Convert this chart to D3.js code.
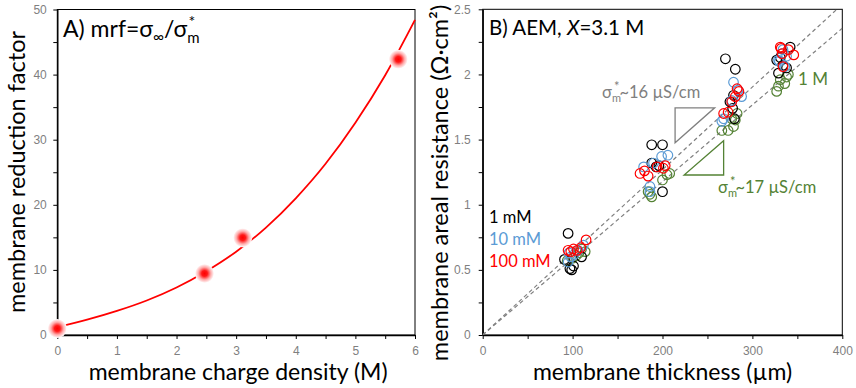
<!DOCTYPE html>
<html>
<head>
<meta charset="utf-8">
<script src="https://cdn.jsdelivr.net/npm/d3@7"></script>
<style>
  body { margin: 0; background: #fff; }
  svg { font-family: Lato, "Open Sans", sans-serif; }
  .tick text { fill: #7f7f7f; font-size: 12px; }
  .tick line { stroke: #000; }
  .domain { stroke: #000; stroke-width: 1.4; }
</style>
</head>
<body>
<script>
// ---- panel A: membrane reduction factor vs charge density
var chargeDensity = [0, 2.47, 3.11, 5.72];
var mrfValues = [1.0, 9.45, 14.95, 42.35];
// fitted curve
var curveX = [0, 0.5, 1, 1.5, 2, 2.5, 3, 3.5, 4, 4.5, 5, 5.5, 6];
var curveY = [1.2, 2.35, 3.7, 5.3, 7.3, 9.8, 12.8, 16.5, 21.0, 26.3, 32.6, 39.9, 48.4];

// ---- panel B: areal resistance vs thickness, [thickness um, resistance ohm.cm2]
var res1mM = [[95, 0.78], [91, 0.58], [97, 0.51], [99, 0.50], [101, 0.53], [110, 0.60],
  [188, 1.46], [200, 1.46], [188, 1.32], [193, 1.29], [200, 1.10], [196, 1.30],
  [270, 2.12], [281, 2.04], [279, 1.84], [275, 1.79], [280, 1.66], [278, 1.74],
  [327, 2.11], [329, 2.01], [342, 2.21], [338, 2.05], [334, 2.07], [331, 2.13]];
var res10mM = [[95, 0.56], [98, 0.60], [102, 0.62], [106, 0.65], [112, 0.69], [96, 0.63],
  [179, 1.29], [206, 1.38], [199, 1.37], [186, 1.14], [186, 1.10], [190, 1.32],
  [279, 1.94], [284, 1.88], [288, 1.83], [266, 1.64], [268, 1.66], [277, 1.80],
  [329, 2.11], [338, 2.14], [333, 2.16], [336, 2.06], [334, 2.19], [330, 2.10]];
var res100mM = [[95, 0.65], [98, 0.64], [101, 0.66], [105, 0.65], [109, 0.67], [115, 0.73],
  [175, 1.24], [184, 1.22], [194, 1.29], [203, 1.30], [201, 1.28], [180, 1.26],
  [283, 1.89], [285, 1.87], [281, 1.83], [277, 1.79], [273, 1.71], [268, 1.70],
  [331, 2.21], [333, 2.16], [346, 2.15], [334, 2.06], [332, 2.20], [340, 2.19]];
var res1M = [[94, 0.57], [100, 0.59], [107, 0.63], [110, 0.66], [114, 0.64], [104, 0.61],
  [205, 1.23], [208, 1.24], [186, 1.08], [184, 1.10], [188, 1.06], [200, 1.19],
  [277, 1.66], [281, 1.65], [279, 1.60], [273, 1.57], [266, 1.57], [283, 1.70],
  [331, 1.96], [338, 1.98], [336, 1.93], [329, 1.91], [327, 1.87], [340, 2.00]];
// dashed guide lines from the origin to these end points
var guideEnds = [[394, 2.5], [400, 2.355]];
// slope triangles [x1, x2, yLow, yHigh]
var triGray = [214, 258, 1.476, 1.744];
var triGreen = [224, 268, 1.228, 1.491];

var W = 856, H = 388;
var blue = "#5b9bd5", green = "#548235", gray = "#808080";

var svg = d3.select("body").append("svg")
  .attr("width", W).attr("height", H);

var defs = svg.append("defs");
var grad = defs.append("radialGradient").attr("id", "glow");
grad.append("stop").attr("offset", "0%").attr("stop-color", "#ff0000");
grad.append("stop").attr("offset", "30%").attr("stop-color", "#ff1818");
grad.append("stop").attr("offset", "65%").attr("stop-color", "#ffa8a8");
grad.append("stop").attr("offset", "100%").attr("stop-color", "#ffffff");

// drop empty minor-tick labels so they do not sit on top of each other
function dropEmpty(g) {
  g.selectAll(".tick text").filter(function() { return this.textContent === ""; }).remove();
}

// ================= panel A
var xA = d3.scaleLinear().domain([0, 6]).range([57.3, 415]);
var yA = d3.scaleLinear().domain([0, 50]).range([335, 9.5]);

svg.append("rect")
  .attr("x", xA(0)).attr("y", yA(50))
  .attr("width", xA(6) - xA(0)).attr("height", yA(0) - yA(50))
  .attr("fill", "none").attr("stroke", "#000").attr("stroke-width", 1);

svg.append("g")
  .attr("transform", "translate(0," + yA(0) + ")")
  .call(d3.axisBottom(xA).tickValues(d3.range(0, 6.01, 0.5))
    .tickFormat(function(d) { return d % 1 === 0 ? d : ""; })
    .tickSize(4).tickPadding(7).tickSizeOuter(0))
  .call(dropEmpty);

svg.append("g")
  .attr("transform", "translate(" + xA(0) + ",0)")
  .call(d3.axisLeft(yA).tickValues(d3.range(0, 51, 5))
    .tickFormat(function(d) { return d % 10 === 0 ? d : ""; })
    .tickSize(4).tickPadding(6.5).tickSizeOuter(0))
  .call(dropEmpty);

var fitLine = d3.line()
  .x(function(d, i) { return xA(curveX[i]); })
  .y(function(d) { return yA(d); })
  .curve(d3.curveMonotoneX);

svg.append("path")
  .datum(curveY)
  .attr("d", fitLine)
  .attr("fill", "none")
  .attr("stroke", "#ff0000")
  .attr("stroke-width", 1.8);

svg.selectAll("circle.glow")
  .data(mrfValues)
  .enter().append("circle")
  .attr("class", "glow")
  .attr("cx", function(d, i) { return xA(chargeDensity[i]); })
  .attr("cy", function(d) { return yA(d); })
  .attr("r", 9.5)
  .attr("fill", "url(#glow)");

var tA = svg.append("text")
  .attr("x", 63).attr("y", 37)
  .style("font-size", "23px").attr("fill", "#000");
tA.append("tspan").text("A) mrf=σ");
tA.append("tspan").attr("font-size", "15px").attr("dy", 5).text("∞");
tA.append("tspan").attr("dy", -5).text("/σ");
tA.append("tspan").attr("font-size", "15px").attr("dy", 6).text("m");
tA.append("tspan").attr("font-size", "16px").attr("dx", -11).attr("dy", -16).text("*");

svg.append("text")
  .attr("x", (xA(0) + xA(6)) / 2 + 2).attr("y", 380)
  .attr("text-anchor", "middle")
  .style("font-size", "23px")
  .text("membrane charge density (M)");

svg.append("text")
  .attr("transform", "translate(25," + 172 + ") rotate(-90)")
  .attr("text-anchor", "middle")
  .style("font-size", "23.5px")
  .text("membrane reduction factor");

// ================= panel B
var xB = d3.scaleLinear().domain([0, 400]).range([482.7, 842.3]);
var yB = d3.scaleLinear().domain([0, 2.5]).range([335, 9.3]);

defs.append("clipPath").attr("id", "clipB")
  .append("rect")
  .attr("x", xB(0)).attr("y", yB(2.5))
  .attr("width", xB(400) - xB(0)).attr("height", yB(0) - yB(2.5));

svg.append("rect")
  .attr("x", xB(0)).attr("y", yB(2.5))
  .attr("width", xB(400) - xB(0)).attr("height", yB(0) - yB(2.5))
  .attr("fill", "none").attr("stroke", "#000").attr("stroke-width", 1);

svg.append("g")
  .attr("transform", "translate(0," + yB(0) + ")")
  .call(d3.axisBottom(xB).tickValues(d3.range(0, 401, 50))
    .tickFormat(function(d) { return d % 100 === 0 ? d : ""; })
    .tickSize(4).tickPadding(7).tickSizeOuter(0))
  .call(dropEmpty);

svg.append("g")
  .attr("transform", "translate(" + xB(0) + ",0)")
  .call(d3.axisLeft(yB).tickValues(d3.range(0, 2.51, 0.25))
    .tickFormat(function(d) { return (d * 2) % 1 === 0 ? d : ""; })
    .tickSize(4).tickPadding(8).tickSizeOuter(0))
  .call(dropEmpty);

var plotB = svg.append("g").attr("clip-path", "url(#clipB)");

plotB.selectAll("line.guide")
  .data(guideEnds)
  .enter().append("line")
  .attr("class", "guide")
  .attr("x1", xB(0)).attr("y1", yB(0))
  .attr("x2", function(d) { return xB(d[0]); })
  .attr("y2", function(d) { return yB(d[1]); })
  .attr("stroke", gray)
  .attr("stroke-width", 1.2)
  .attr("stroke-dasharray", "4,3");

function triangle(t, rightAngleLeftTop) {
  var pts;
  if (rightAngleLeftTop) {
    pts = [[t[0], t[2]], [t[0], t[3]], [t[1], t[3]]];
  } else {
    pts = [[t[0], t[2]], [t[1], t[2]], [t[1], t[3]]];
  }
  return "M" + pts.map(function(p) { return xB(p[0]) + "," + yB(p[1]); }).join("L") + "Z";
}
svg.append("path").attr("d", triangle(triGray, true))
  .attr("fill", "none").attr("stroke", gray).attr("stroke-width", 1.3);
svg.append("path").attr("d", triangle(triGreen, false))
  .attr("fill", "none").attr("stroke", green).attr("stroke-width", 1.3);

var series = [
  { data: res1M, color: green },
  { data: res1mM, color: "#000000" },
  { data: res10mM, color: blue },
  { data: res100mM, color: "#ff0000" }
];
series.forEach(function(s) {
  plotB.append("g").selectAll("circle")
    .data(s.data)
    .enter().append("circle")
    .attr("cx", function(d) { return xB(d[0]); })
    .attr("cy", function(d) { return yB(d[1]); })
    .attr("r", 4.8)
    .attr("fill", "none")
    .attr("stroke", s.color)
    .attr("stroke-width", 1.2);
});

var tB = svg.append("text")
  .attr("x", 489).attr("y", 35)
  .style("font-size", "20.5px");
tB.append("tspan").text("B) AEM, ");
tB.append("tspan").attr("font-style", "italic").text("X");
tB.append("tspan").text("=3.1 M");

function sigmaLabel(x, y, color, rest) {
  var t = svg.append("text").attr("x", x).attr("y", y)
    .style("font-size", "16.5px").attr("fill", color);
  t.append("tspan").text("σ");
  t.append("tspan").attr("font-size", "11px").attr("dy", 4).text("m");
  t.append("tspan").attr("font-size", "13px").attr("dx", -7).attr("dy", -11).text("*");
  t.append("tspan").attr("dy", 7).text(rest);
}
sigmaLabel(602, 98, gray, "~16 µS/cm");
sigmaLabel(718, 193, green, "~17 µS/cm");

svg.append("text").attr("x", 798).attr("y", 85)
  .style("font-size", "17px").attr("fill", green).text("1 M");

var legendNames = ["1 mM", "10 mM", "100 mM"];
var legendColors = ["#000000", blue, "#ff0000"];
svg.selectAll("text.legend")
  .data(legendNames)
  .enter().append("text")
  .attr("class", "legend")
  .attr("x", 489)
  .attr("y", function(d, i) { return 223 + i * 22; })
  .style("font-size", "16.5px")
  .attr("fill", function(d, i) { return legendColors[i]; })
  .text(String);

svg.append("text")
  .attr("x", (xB(0) + xB(400)) / 2).attr("y", 380)
  .attr("text-anchor", "middle")
  .style("font-size", "23px")
  .text("membrane thickness (µm)");

svg.append("text")
  .attr("transform", "translate(448," + 183 + ") rotate(-90)")
  .attr("text-anchor", "middle")
  .style("font-size", "23.5px")
  .text("membrane areal resistance (Ω·cm²)");
</script>
</body>
</html>
